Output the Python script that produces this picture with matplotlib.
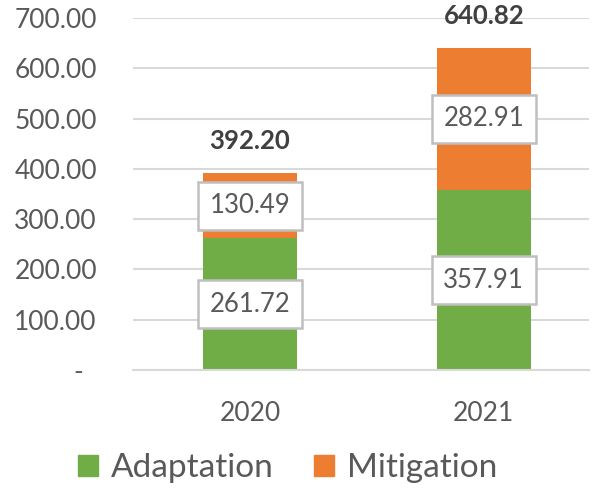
import matplotlib
matplotlib.use("Agg")
import matplotlib.pyplot as plt
from matplotlib.ticker import FuncFormatter
from matplotlib.patches import Patch

years = ["2020", "2021"]
adaptation = [261.72, 357.91]
mitigation = [130.49, 282.91]
totals = [392.20, 640.82]

GREEN = "#70AD47"
ORANGE = "#ED7D31"
TXT = "#595959"

plt.rcParams['font.family'] = ['Lato', 'DejaVu Sans']

fig = plt.figure(figsize=(5.93, 4.92), dpi=100)
ax = fig.add_axes([133/593, 1-370/492, (589-133)/593, (370-18)/492])

x = list(range(len(years)))
w = 0.40
ax.bar(x, adaptation, w, color=GREEN, label="Adaptation", zorder=2)
ax.bar(x, mitigation, w, bottom=adaptation, color=ORANGE, label="Mitigation", zorder=2)

box = dict(boxstyle="square,pad=0.45", fc="white", ec="#BFBFBF", lw=1.8)
for i in x:
    ax.text(i, adaptation[i] / 2, f"{adaptation[i]:.2f}", ha="center", va="center",
            fontsize=18.5, color=TXT, bbox=box, zorder=3)
    ax.text(i, adaptation[i] + mitigation[i] / 2, f"{mitigation[i]:.2f}", ha="center",
            va="center", fontsize=18.5, color=TXT, bbox=box, zorder=3)
    ax.annotate(f"{totals[i]:.2f}", (i, totals[i]), xytext=(0, 23), textcoords="offset points",
                ha="center", va="center", fontsize=18.5, fontweight="bold", color="#404040")

ax.set_ylim(0, 700)
ax.set_xlim(-0.5, 1.45)
ax.set_yticks(range(0, 701, 100))
ax.yaxis.set_major_formatter(FuncFormatter(lambda v, p: "-  " if v == 0 else f"{v:.2f}"))
ax.set_xticks(x)
ax.set_xticklabels(years)
ax.tick_params(axis="y", length=0, pad=26, labelsize=19, labelcolor=TXT)
ax.tick_params(axis="x", length=0, pad=22, labelsize=19, labelcolor=TXT)
ax.grid(axis="y", color="#D9D9D9", lw=1.5, zorder=0)
for s in ["top", "right", "left"]:
    ax.spines[s].set_visible(False)
ax.spines["bottom"].set_color("#D9D9D9")
ax.spines["bottom"].set_linewidth(1.5)

handles = [Patch(color=GREEN, label="Adaptation"), Patch(color=ORANGE, label="Mitigation")]
fig.legend(handles=handles, loc="center", bbox_to_anchor=(0.485, 1-468/492), ncol=2,
           frameon=False, fontsize=24, labelcolor=TXT, handlelength=0.6, handleheight=0.6,
           handletextpad=0.4, columnspacing=1.2)

fig.savefig("out.png", dpi=100)
